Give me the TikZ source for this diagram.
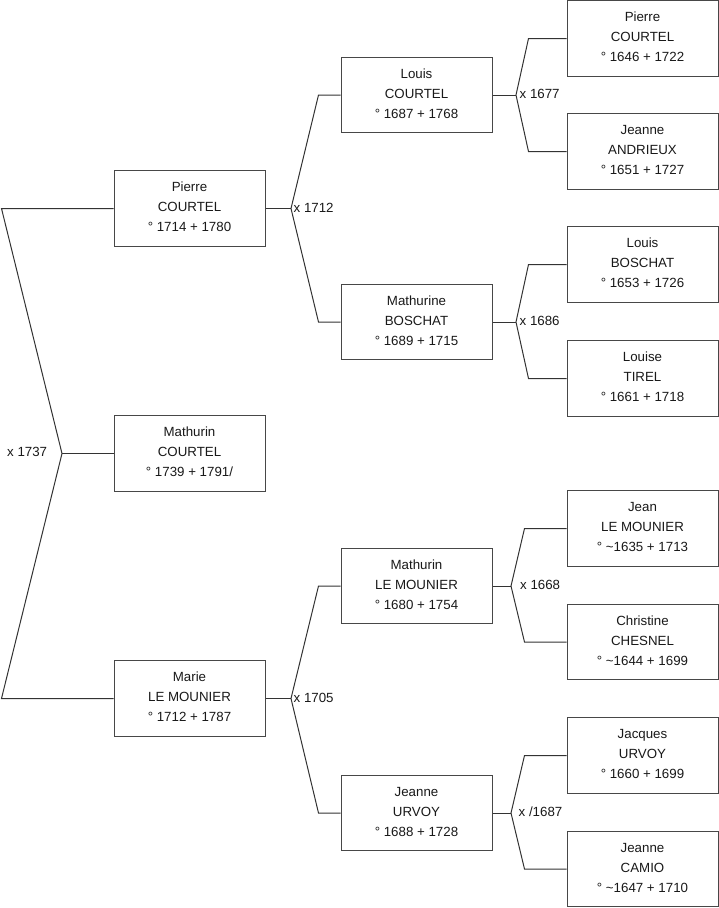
\documentclass[tikz,border=0pt]{standalone}
\usepackage{fontspec}
\setmainfont{Liberation Sans}
\begin{document}
\begin{tikzpicture}[x=1pt,y=-1pt,
  person/.style={draw=black!72, line width=1pt, fill=white, rectangle,
    minimum width=151pt, minimum height=75.5pt, inner sep=0pt, align=center,
    text depth=3pt,
    font=\fontsize{13.3}{20}\selectfont, text=black!90},
  wed/.style={anchor=west, inner sep=0pt, font=\fontsize{13.3}{16}\selectfont, text=black!90},
  link/.style={draw=black!80, line width=1pt}]
\useasboundingbox (0,0) rectangle (719,908);
% generation 1
\node[person] (g1a) at (189.5,208.5) {Pierre\\COURTEL\\° 1714 + 1780};
\node[person] (g1b) at (189.5,453.5) {Mathurin\\COURTEL\\° 1739 + 1791/};
\node[person] (g1c) at (189.5,698.5) {Marie\\LE MOUNIER\\° 1712 + 1787};
% generation 2
\node[person] (g2a) at (416.5,95) {Louis\\COURTEL\\° 1687 + 1768};
\node[person] (g2b) at (416.5,322) {Mathurine\\BOSCHAT\\° 1689 + 1715};
\node[person] (g2c) at (416.5,586) {Mathurin\\LE MOUNIER\\° 1680 + 1754};
\node[person] (g2d) at (416.5,813) {Jeanne\\URVOY\\° 1688 + 1728};
% generation 3
\node[person] (g3a) at (642.5,38.5) {Pierre\\COURTEL\\° 1646 + 1722};
\node[person] (g3b) at (642.5,151.5) {Jeanne\\ANDRIEUX\\° 1651 + 1727};
\node[person] (g3c) at (642.5,264.5) {Louis\\BOSCHAT\\° 1653 + 1726};
\node[person] (g3d) at (642.5,378.5) {Louise\\TIREL\\° 1661 + 1718};
\node[person] (g3e) at (642.5,528.5) {Jean\\LE MOUNIER\\° \char`~1635 + 1713};
\node[person] (g3f) at (642.5,642) {Christine\\CHESNEL\\° \char`~1644 + 1699};
\node[person] (g3g) at (642.5,755.5) {Jacques\\URVOY\\° 1660 + 1699};
\node[person] (g3h) at (642.5,869) {Jeanne\\CAMIO\\° \char`~1647 + 1710};
% fork apexes
\coordinate (f0) at (62,453.5);
\coordinate (f1) at (291,208.5);
\coordinate (f2) at (291,698.5);
\coordinate (f3) at (516,95);
\coordinate (f4) at (516,322);
\coordinate (f5) at (511,586);
\coordinate (f6) at (511,813);
% root fork
\draw[link] (g1a.west) -- ([xshift=-112]g1a.west) -- (f0) -- ([xshift=-112]g1c.west) -- (g1c.west);
\draw[link] (f0) -- (g1b.west);
% generation 2 forks
\draw[link] (g1a.east) -- (f1);
\draw[link] (g2a.west) -- ([xshift=-22]g2a.west) -- (f1) -- ([xshift=-22]g2b.west) -- (g2b.west);
\draw[link] (g1c.east) -- (f2);
\draw[link] (g2c.west) -- ([xshift=-22]g2c.west) -- (f2) -- ([xshift=-22]g2d.west) -- (g2d.west);
% generation 3 forks
\draw[link] (g2a.east) -- (f3);
\draw[link] (g3a.west) -- ([xshift=-38]g3a.west) -- (f3) -- ([xshift=-38]g3b.west) -- (g3b.west);
\draw[link] (g2b.east) -- (f4);
\draw[link] (g3c.west) -- ([xshift=-38]g3c.west) -- (f4) -- ([xshift=-38]g3d.west) -- (g3d.west);
\draw[link] (g2c.east) -- (f5);
\draw[link] (g3e.west) -- ([xshift=-42]g3e.west) -- (f5) -- ([xshift=-42]g3f.west) -- (g3f.west);
\draw[link] (g2d.east) -- (f6);
\draw[link] (g3g.west) -- ([xshift=-42]g3g.west) -- (f6) -- ([xshift=-42]g3h.west) -- (g3h.west);
% marriage labels
\node[wed] (m0) at (7,452) {x 1737};
\node[wed] (m1) at (293.5,208) {x 1712};
\node[wed] (m2) at (293.5,698) {x 1705};
\node[wed] (m3) at (519.5,94) {x 1677};
\node[wed] (m4) at (519.5,321) {x 1686};
\node[wed] (m5) at (520,585) {x 1668};
\node[wed] (m6) at (518.5,812) {x /1687};
\end{tikzpicture}
\end{document}
